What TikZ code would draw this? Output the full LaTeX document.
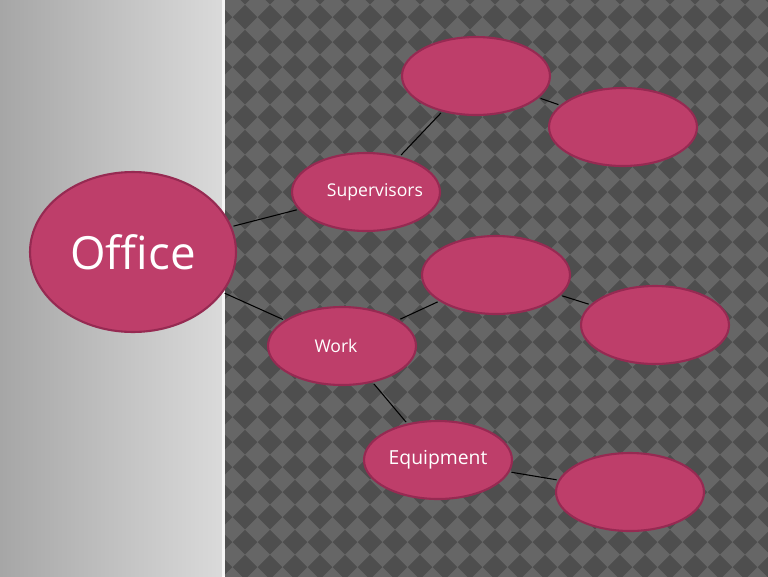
\documentclass[tikz,border=0pt]{standalone}
\usepackage{fontspec}
\setmainfont{Open Sans}
\definecolor{bubblefill}{RGB}{190,62,106}
\definecolor{bubbleline}{RGB}{150,42,82}
\definecolor{tiledark}{RGB}{78,78,78}
\definecolor{tilelight}{RGB}{102,102,102}
\tikzset{
    bubble/.style={ellipse,fill=bubblefill,draw=bubbleline,line width=1.2pt,
        inner sep=0pt,text=white,minimum width=2.96cm,minimum height=1.56cm},
    link/.style={black,line width=0.6pt,shorten >=1pt,shorten <=1pt}
}
\usetikzlibrary{shapes.geometric}
\begin{document}
\begin{tikzpicture}
    \begin{scope}[x=0.02cm,y=-0.02cm]
        \useasboundingbox (0,0) rectangle (768,576);
        \clip (0,0) rectangle (768,576);

        % left panel
        \shade[left color={rgb,255:red,166;green,166;blue,166},right color={rgb,255:red,218;green,218;blue,218}] (0,0) rectangle (222,576);
        \fill[white!92!gray] (222,0) rectangle (225,576);

        % tiled panel
        \fill[tiledark] (225,0) rectangle (768,580);
        \begin{scope}
            \clip (225,0) rectangle (768,576);
            \foreach \i in {-16,...,6} {
                \foreach \j in {-8,...,16} {
                    \fill[tilelight] ({607.5+25*\i},{179.5+25*\j-12.5}) -- ++(12.5,12.5) -- ++(-12.5,12.5) -- ++(-12.5,-12.5) -- cycle;
                }
            }
        \end{scope}

        % bubbles
        \node[bubble,minimum width=4.12cm,minimum height=3.2cm,font=\fontsize{26}{30}\selectfont] (office) at (133,252) {Office};
        \node[bubble,font=\fontsize{10}{12}\selectfont] (superv) at (366,192) {\makebox[0pt]{\hspace*{0.36cm}Supervisors}};
        \node[bubble,font=\fontsize{10}{12}\selectfont] (work) at (342,346) {\makebox[0pt]{Work\hspace*{0.24cm}}};
        \node[bubble,font=\fontsize{11}{13}\selectfont] (equip) at (438,460) {Equipment};
        \node[bubble] (superva) at (476,76) {};
        \node[bubble] (supervb) at (623,127) {};
        \node[bubble] (worka) at (496,275) {};
        \node[bubble] (workb) at (655,325) {};
        \node[bubble] (equipa) at (630,492) {};

        % links
        \draw[link] (office) -- (superv);
        \draw[link] (office) -- (work);
        \draw[link] (superv) -- (superva);
        \draw[link] (superva) -- (supervb);
        \draw[link] (work) -- (worka);
        \draw[link] (worka) -- (workb);
        \draw[link] (work) -- (equip);
        \draw[link] (equip) -- (equipa);
    \end{scope}
\end{tikzpicture}
\end{document}
